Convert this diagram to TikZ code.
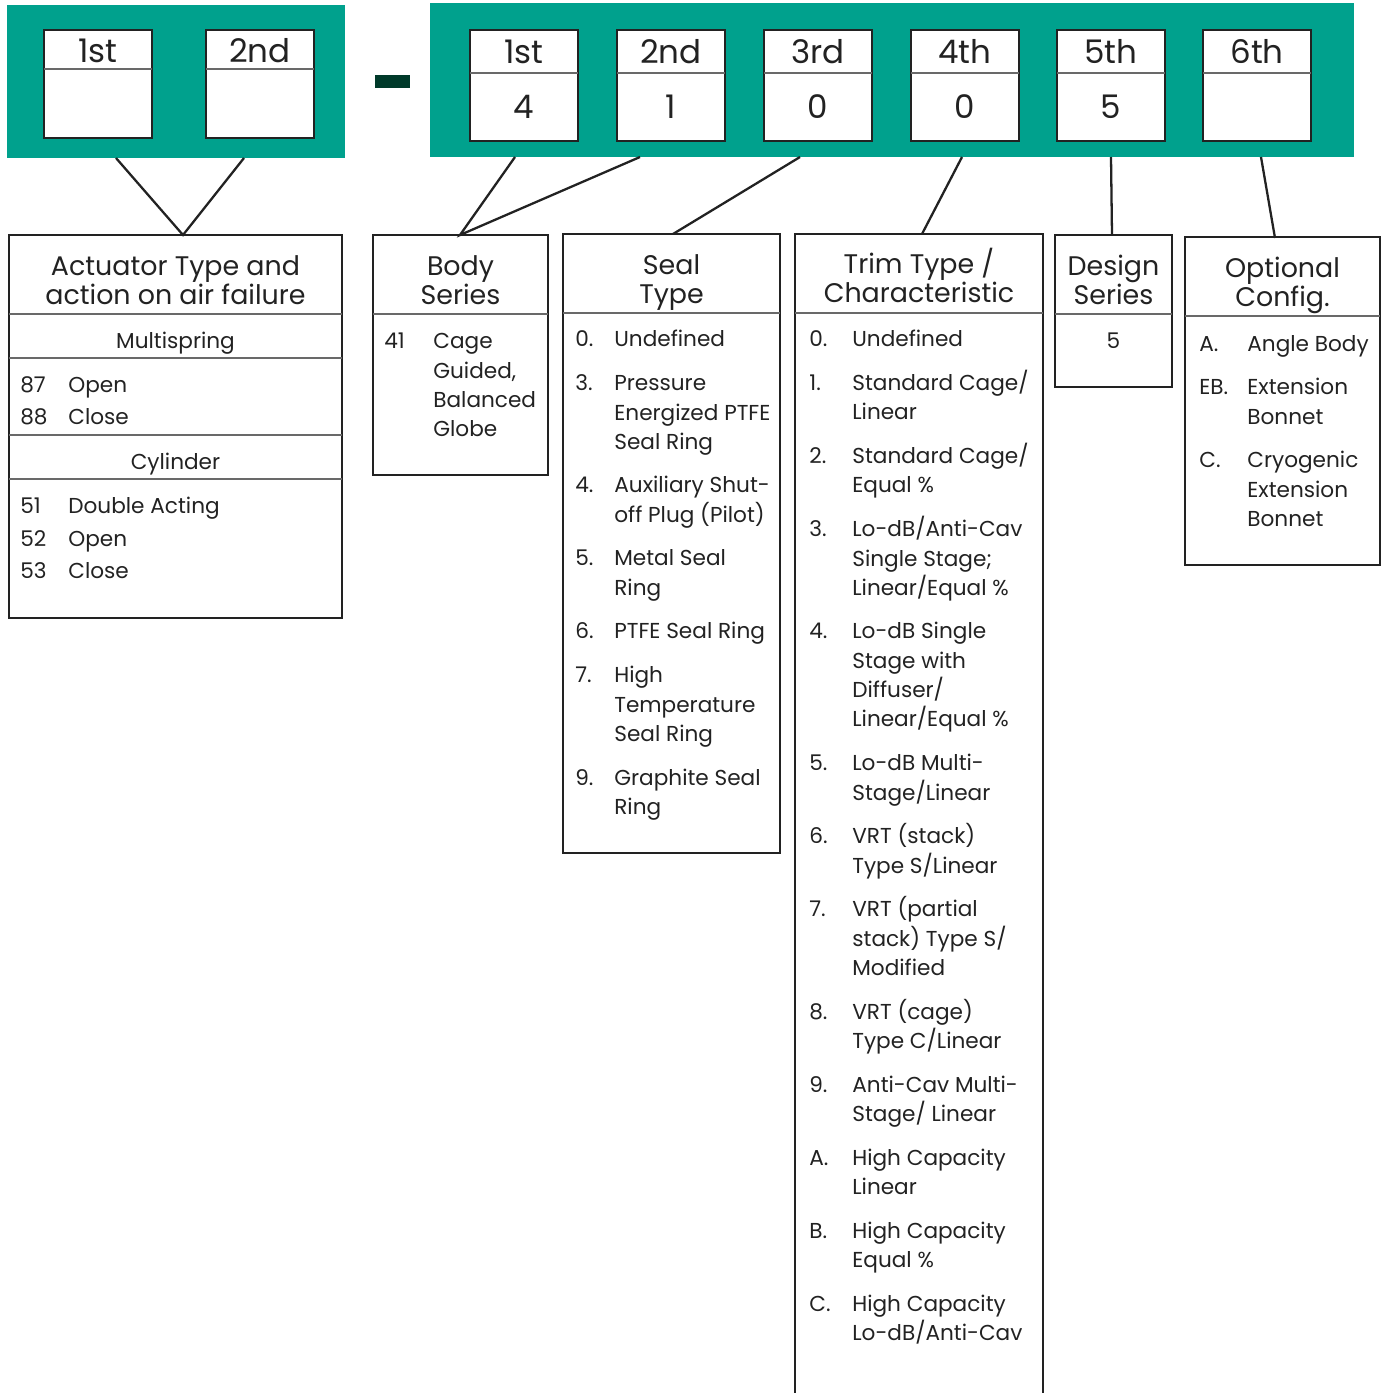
\documentclass[tikz,border=0pt]{standalone}
\usepackage{fontspec}
\setmainfont{Poppins}
\definecolor{bandgreen}{RGB}{0,161,141}
\definecolor{dashgreen}{RGB}{0,58,42}
\definecolor{ink}{RGB}{34,34,34}
\definecolor{rulegray}{RGB}{105,105,105}
\tikzset{
  digitbox/.style={fill=white, draw=ink, line width=1.6pt},
  panel/.style={draw=ink, line width=1.6pt},
  rule/.style={draw=rulegray, line width=0.9pt},
  link/.style={draw=ink, line width=1.3pt},
  digit/.style={font=\fontsize{18.5}{22}\selectfont, text=ink, inner sep=0, anchor=mid, yshift=-3.4pt},
  head/.style={font=\fontsize{15.3}{18}\selectfont, text=ink, inner sep=0, anchor=mid, yshift=-3.4pt},
  item/.style={font=\fontsize{12.3}{15}\selectfont, text=ink, inner sep=0, anchor=mid west, yshift=-2.3pt},
  sub/.style={item, anchor=mid}
}
\begin{document}
\begin{tikzpicture}[x=0.02cm,y=-0.02cm]
  \useasboundingbox (0,0) rectangle (1386,1393);
  % code bands
  \fill[bandgreen] (7,5) rectangle (345,158);
  \fill[bandgreen] (430,3) rectangle (1354,157);
  \fill[dashgreen] (375,75) rectangle (410,88);

  % actuator digits
  \foreach \x/\t [count=\i] in {44/1st, 206/2nd} {
    \draw[digitbox] (\x,30) rectangle ++(108,108);
    \draw[rule] (\x,69) -- ++(108,0);
    \node[digit] (act\i) at (\x+54,52) {\t};
  }
  % body digits
  \foreach \x/\t/\v [count=\i] in {470/1st/4, 617/2nd/1, 764/3rd/0, 911/4th/0, 1057/5th/5, 1203/6th/} {
    \draw[digitbox] (\x,30) rectangle ++(108,111);
    \draw[rule] (\x,73) -- ++(108,0);
    \node[digit] (pos\i) at (\x+54,53) {\t};
    \node[digit] (val\i) at (\x+54,108) {\v};
  }

  % feet and tops of the connectors
  \coordinate (act1-foot) at (116,158);
  \coordinate (act2-foot) at (244,158);
  \coordinate (act-top) at (183,235);
  \coordinate (pos1-foot) at (515,157);
  \coordinate (pos2-foot) at (640,157);
  \coordinate (body-top) at (460,235);
  \coordinate (pos3-foot) at (800,157);
  \coordinate (seal-top) at (673,234);
  \coordinate (pos4-foot) at (962,157);
  \coordinate (trim-top) at (922,234);
  \coordinate (pos5-foot) at (1111,157);
  \coordinate (design-top) at (1112,235);
  \coordinate (pos6-foot) at (1261,157);
  \coordinate (option-top) at (1275,238);

  \draw[link] (act1-foot) -- (act-top) -- (act2-foot);
  \draw[link] (pos1-foot) -- (body-top) -- (pos2-foot);
  \draw[link] (pos3-foot) -- (seal-top);
  \draw[link] (pos4-foot) -- (trim-top);
  \draw[link] (pos5-foot) -- (design-top);
  \draw[link] (pos6-foot) -- (option-top);

  % actuator type
  \draw[panel] (9,235) rectangle (342,618);
  \foreach \y in {314,358,435,479} \draw[rule] (9,\y) -- (342,\y);
  \node[head] (acthead1) at (175.5,265) {Actuator Type and};
  \node[head] (acthead2) at (175.5,294) {action on air failure};
  \node[sub] (multi) at (175.5,340) {Multispring};
  \node[sub] (cyl) at (175.5,461) {Cylinder};
  \foreach \y/\n [count=\i] in {384/87, 416/88, 505/51, 538/52, 570/53}
    \node[item] (actn\i) at (20,\y) {\n};
  \foreach \y/\t [count=\i] in {384/Open, 416/Close, 505/Double Acting, 538/Open, 570/Close}
    \node[item] (actt\i) at (68,\y) {\t};

  % body series
  \draw[panel] (373,235) rectangle (548,475);
  \draw[rule] (373,314) -- (548,314);
  \node[head] (bodyhead1) at (460.5,265) {Body};
  \node[head] (bodyhead2) at (460.5,294) {Series};
  \node[item] (bodyn1) at (384,340) {41};
  \foreach \y/\t [count=\i] in {340/Cage, 370/{Guided,}, 399/Balanced, 428/Globe}
    \node[item] (bodyt\i) at (433,\y) {\t};

  % seal type
  \draw[panel] (563,234) rectangle (780,853);
  \draw[rule] (563,313) -- (780,313);
  \node[head] (sealhead1) at (671.5,264) {Seal};
  \node[head] (sealhead2) at (671.5,293) {Type};
  \foreach \y/\n [count=\i] in {338/0., 382/3., 484/4., 557/5., 630/6., 674/7., 777/9.}
    \node[item] (sealn\i) at (575,\y) {\n};
  \foreach \y/\t [count=\i] in {338/Undefined, 382/Pressure, 412/Energized PTFE, 441/Seal Ring,
      484/Auxiliary Shut-, 514/off Plug (Pilot), 557/Metal Seal, 587/Ring, 630/PTFE Seal Ring,
      674/High, 704/Temperature, 733/Seal Ring, 777/Graphite Seal, 806/Ring}
    \node[item] (sealt\i) at (614,\y) {\t};

  % trim type, open at the foot
  \draw[panel] (795,1393) -- (795,234) -- (1043,234) -- (1043,1393);
  \draw[rule] (795,313) -- (1043,313);
  \node[head] (trimhead1) at (919,263) {Trim Type /};
  \node[head] (trimhead2) at (919,292) {Characteristic};
  \foreach \y/\n [count=\i] in {338/0., 382/1., 455/2., 528/3., 630/4., 762/5., 835/6., 908/7.,
      1011/8., 1084/9., 1157/A., 1230/B., 1303/C.}
    \node[item] (trimn\i) at (809,\y) {\n};
  \foreach \y/\t [count=\i] in {338/Undefined, 382/{Standard Cage/}, 411/Linear,
      455/{Standard Cage/}, 484/{Equal \%}, 528/{Lo-dB/Anti-Cav}, 558/{Single Stage;},
      587/{Linear/Equal \%}, 630/Lo-dB Single, 660/Stage with, 689/{Diffuser/},
      718/{Linear/Equal \%}, 762/Lo-dB Multi-, 792/{Stage/Linear}, 835/{VRT (stack)},
      865/{Type S/Linear}, 908/{VRT (partial}, 938/{stack) Type S/}, 967/Modified,
      1011/{VRT (cage)}, 1040/{Type C/Linear}, 1084/Anti-Cav Multi-, 1113/{Stage/ Linear},
      1157/High Capacity, 1186/Linear, 1230/High Capacity, 1259/{Equal \%},
      1303/High Capacity, 1332/{Lo-dB/Anti-Cav}}
    \node[item] (trimt\i) at (852,\y) {\t};

  % design series
  \draw[panel] (1055,235) rectangle (1172,387);
  \draw[rule] (1055,314) -- (1172,314);
  \node[head] (designhead1) at (1113.5,265) {Design};
  \node[head] (designhead2) at (1113.5,294) {Series};
  \node[sub] (design1) at (1113.5,340) {5};

  % optional config
  \draw[panel] (1185,237) rectangle (1380,565);
  \draw[rule] (1185,316) -- (1380,316);
  \node[head] (opthead1) at (1282.5,267) {Optional};
  \node[head] (opthead2) at (1282.5,296) {Config.};
  \foreach \y/\n [count=\i] in {343/A., 386/EB., 459/C.}
    \node[item] (optn\i) at (1199,\y) {\n};
  \foreach \y/\t [count=\i] in {343/Angle Body, 386/Extension, 416/Bonnet, 459/Cryogenic,
      489/Extension, 518/Bonnet}
    \node[item] (optt\i) at (1247,\y) {\t};
\end{tikzpicture}
\end{document}
